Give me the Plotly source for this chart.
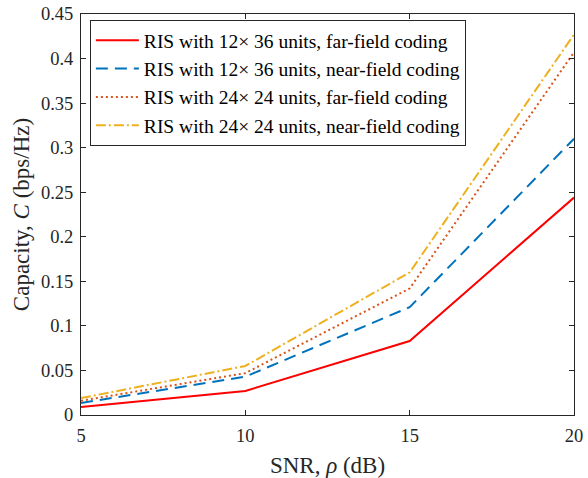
import plotly.graph_objects as go

snr = [5, 10, 15, 20]
cap_12x36_far = [0.009, 0.027, 0.083, 0.244]
cap_12x36_near = [0.0135, 0.043, 0.121, 0.310]
cap_24x24_far = [0.016, 0.047, 0.142, 0.407]
cap_24x24_near = [0.019, 0.055, 0.160, 0.427]
names = [
    "RIS with 12\u00d7 36 units, far-field coding",
    "RIS with 12\u00d7 36 units, near-field coding",
    "RIS with 24\u00d7 24 units, far-field coding",
    "RIS with 24\u00d7 24 units, near-field coding",
]
x_ticks = [5, 10, 15, 20]
y_ticks = [0, 0.05, 0.1, 0.15, 0.2, 0.25, 0.3, 0.35, 0.4, 0.45]
y_ticktext = ["0", "0.05", "0.1", "0.15", "0.2", "0.25", "0.3", "0.35", "0.4", "0.45"]

series = [cap_12x36_far, cap_12x36_near, cap_24x24_far, cap_24x24_near]
colors = ["#ff0000", "#0072bd", "#d95319", "#edb120"]
dashes = ["solid", "12px,7px", "2px,3px", "10px,3px,2px,3px"]

fig = go.Figure()
for ys, nm, c, d in zip(series, names, colors, dashes):
    fig.add_trace(go.Scatter(x=snr, y=ys, mode="lines", name=nm,
                             line=dict(color=c, dash=d, width=2)))

axis_common = dict(showline=True, linecolor="#262626", linewidth=1, mirror="ticks",
                   ticks="inside", ticklen=5, tickcolor="#262626", showgrid=False,
                   zeroline=False, automargin=False,
                   tickfont=dict(family="Liberation Serif", size=18.5, color="#262626"))

fig.update_layout(
    width=588, height=478,
    margin=dict(l=81, r=14, t=14, b=63),
    paper_bgcolor="white", plot_bgcolor="white",
    font=dict(family="Liberation Serif", color="#262626"),
    xaxis=dict(range=[5, 20], tickvals=x_ticks, ticklabelstandoff=4,
               title=dict(text="SNR, <i>\u03c1</i> (dB)", font=dict(size=23), standoff=16),
               **axis_common),
    yaxis=dict(range=[0, 0.45], tickvals=y_ticks, ticktext=y_ticktext, ticklabelstandoff=3,
               title=dict(text="Capacity, <i>C</i> (bps/Hz)", font=dict(size=23), standoff=4),
               **axis_common),
    legend=dict(x=0.018, y=0.985, xanchor="left", yanchor="top",
                bgcolor="white", bordercolor="#262626", borderwidth=1,
                font=dict(family="Liberation Serif", size=19.5, color="black"),
                tracegroupgap=0, itemwidth=43),
    showlegend=True,
)

fig.write_html("out.html", config={"displayModeBar": False},
               post_script="document.body.style.margin='0px';document.body.style.overflow='hidden';")
